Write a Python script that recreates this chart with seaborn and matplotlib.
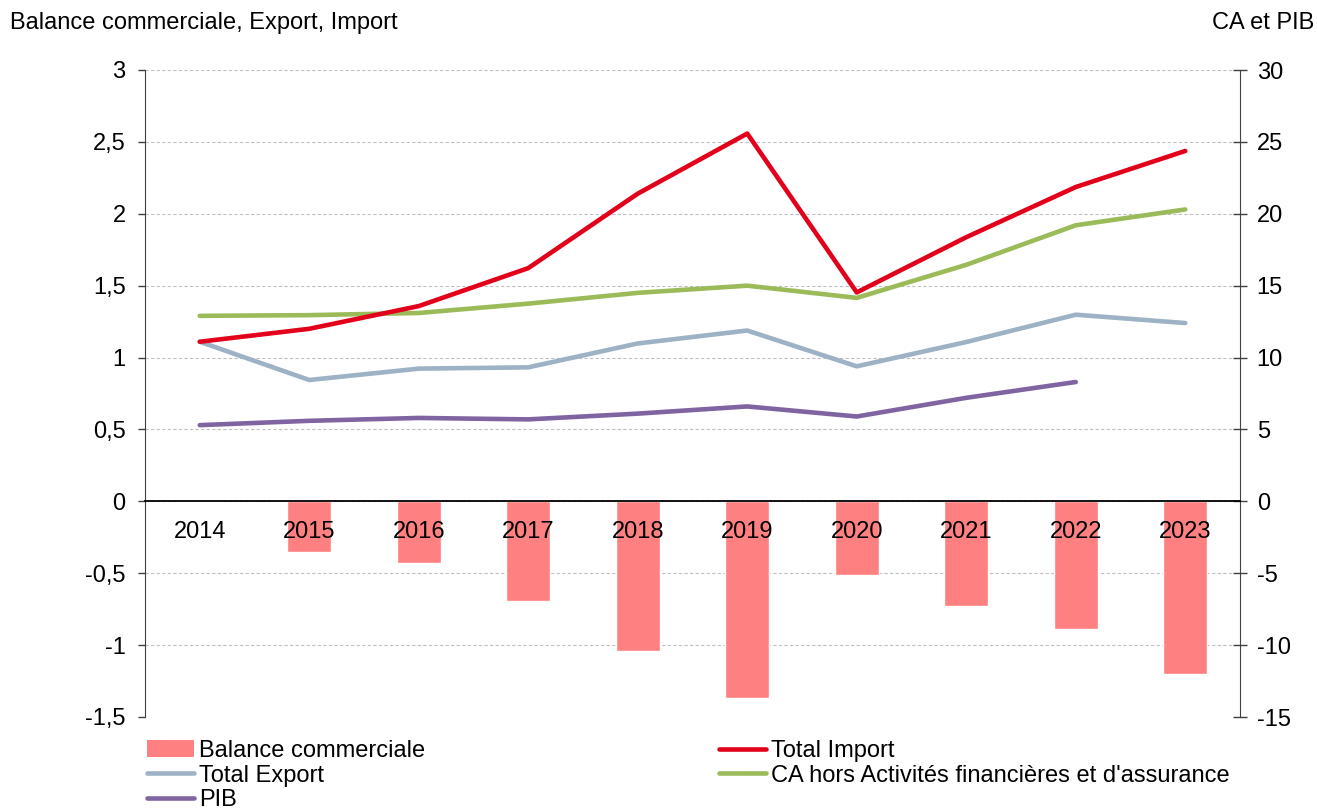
import numpy as np
import pandas as pd
import matplotlib
matplotlib.use("Agg")
import matplotlib.pyplot as plt
from matplotlib.patches import Patch
from matplotlib.lines import Line2D
from matplotlib.ticker import FuncFormatter, MultipleLocator, FixedLocator, NullFormatter
import seaborn as sns

# ---- data ----
years = ["2014", "2015", "2016", "2017", "2018", "2019", "2020", "2021", "2022", "2023"]
balance = [0.012, -0.353, -0.430, -0.693, -1.040, -1.367, -0.512, -0.726, -0.891, -1.198]
total_import = [1.11, 1.20, 1.358, 1.622, 2.14, 2.558, 1.453, 1.837, 2.186, 2.437]
total_export = [1.11, 0.844, 0.923, 0.932, 1.098, 1.188, 0.939, 1.108, 1.298, 1.240]
ca_hors = [12.9, 12.95, 13.1, 13.75, 14.5, 15.0, 14.15, 16.45, 19.2, 20.3]
pib = [5.3, 5.6, 5.8, 5.7, 6.1, 6.6, 5.9, 7.2, 8.3, np.nan]

labels_leg = ["Balance commerciale", "Total Import", "Total Export",
              "CA hors Activités financières et d'assurance", "PIB"]

c_bar = "#FF8080"
c_imp = "#E2001A"
c_exp = "#9DB2C4"
c_ca = "#9BBB59"
c_pib = "#8064A2"

sns.set_style("white")
plt.rcParams["font.family"] = ["Liberation Sans", "DejaVu Sans"]
plt.rcParams["text.color"] = "black"
plt.rcParams["xtick.labelcolor"] = "black"
plt.rcParams["ytick.labelcolor"] = "black"
FS = 17

pos = np.arange(len(years))
df = pd.DataFrame({"year": years, "pos": pos, "balance": balance,
                   "imp": total_import, "exp": total_export,
                   "ca": ca_hors, "pib": pib})

fig = plt.figure(figsize=(13.17, 8.09), dpi=100)
ax = fig.add_axes([145 / 1317, 1 - 717 / 809, 1095 / 1317, 647 / 809])
ax2 = ax.twinx()
ax.set_zorder(ax2.get_zorder() + 1)
ax.patch.set_visible(False)

# bars (left axis)
sns.barplot(data=df, x="year", y="balance", color=c_bar, saturation=1,
            width=0.4, errorbar=None, ax=ax, zorder=2)
# lines
lw = 3.3
sns.lineplot(data=df, x="pos", y="ca", color=c_ca, linewidth=lw, ax=ax2)
sns.lineplot(data=df, x="pos", y="pib", color=c_pib, linewidth=lw, ax=ax2)
sns.lineplot(data=df, x="pos", y="exp", color=c_exp, linewidth=lw, ax=ax, zorder=3)
sns.lineplot(data=df, x="pos", y="imp", color=c_imp, linewidth=lw, ax=ax, zorder=4)

ax.set_xlim(-0.5, len(years) - 0.5)
ax2.set_xlim(-0.5, len(years) - 0.5)
ax.set_ylim(-1.5, 3)
ax2.set_ylim(-15, 30)
ax.set_xlabel("")
ax.set_ylabel("")
ax2.set_xlabel("")
ax2.set_ylabel("")

ax.yaxis.set_major_locator(MultipleLocator(0.5))
ax2.yaxis.set_major_locator(MultipleLocator(5))
ax.yaxis.set_major_formatter(FuncFormatter(lambda v, p: f"{v:g}".replace(".", ",")))
ax2.yaxis.set_major_formatter(FuncFormatter(lambda v, p: f"{v:g}"))

# x ticks: labels at centers (major, no mark), marks at boundaries (minor)
ax.set_xticks(pos)
ax.set_xticklabels(years)
ax.xaxis.set_minor_locator(FixedLocator(np.arange(-0.5, len(years), 1.0)))
ax.xaxis.set_minor_formatter(NullFormatter())
ax.tick_params(axis="x", which="major", length=0, pad=14, labelsize=FS, labelcolor="black")
ax.tick_params(axis="x", which="minor", length=5, width=1, direction="out", color="#404040")
ax.xaxis.set_zorder(5)

ax.tick_params(axis="y", which="major", length=5, width=1, direction="out",
               labelsize=FS, pad=9, color="#404040", labelcolor="black")
ax2.tick_params(axis="y", which="major", length=10, width=1, direction="inout",
                labelsize=FS, pad=7, color="#404040", labelcolor="black")

# spines
ax.spines["bottom"].set_position(("data", 0))
ax.spines["bottom"].set_color("black")
ax.spines["bottom"].set_linewidth(1.3)
ax.spines["bottom"].set_zorder(5)
ax.spines["top"].set_visible(False)
ax.spines["right"].set_visible(False)
ax.spines["left"].set_color("#404040")
for s in ["left", "top", "bottom"]:
    ax2.spines[s].set_visible(False)
ax2.spines["right"].set_color("#404040")
ax2.tick_params(axis="x", which="both", bottom=False, labelbottom=False)

# grid
ax2.yaxis.grid(True, color="#c0c0c0", linestyle=(0, (3, 2)), linewidth=0.8)
ax2.set_axisbelow(True)
ax.grid(False)

# axis titles
fig.text(10 / 1317, 1 - 23 / 809, "Balance commerciale, Export, Import",
         ha="left", va="center", fontsize=FS, color="black")
fig.text(1314 / 1317, 1 - 23 / 809, "CA et PIB", ha="right", va="center",
         fontsize=FS, color="black")

# legends
h_bar = Patch(facecolor=c_bar, edgecolor="none")
h_imp = Line2D([], [], color=c_imp, linewidth=lw)
h_exp = Line2D([], [], color=c_exp, linewidth=lw)
h_ca = Line2D([], [], color=c_ca, linewidth=lw)
h_pib = Line2D([], [], color=c_pib, linewidth=lw)

common = dict(loc="upper left", frameon=False, fontsize=FS, handlelength=2.0,
              handletextpad=0.2, labelspacing=0.11, borderaxespad=0, borderpad=0,
              labelcolor="black")
fig.legend([h_bar, h_exp, h_pib], [labels_leg[0], labels_leg[2], labels_leg[4]],
           bbox_to_anchor=(147 / 1317, 1 - 740 / 809), **common)
fig.legend([h_imp, h_ca], [labels_leg[1], labels_leg[3]],
           bbox_to_anchor=(719 / 1317, 1 - 740 / 809), **common)

fig.savefig("out.png", dpi=100)
